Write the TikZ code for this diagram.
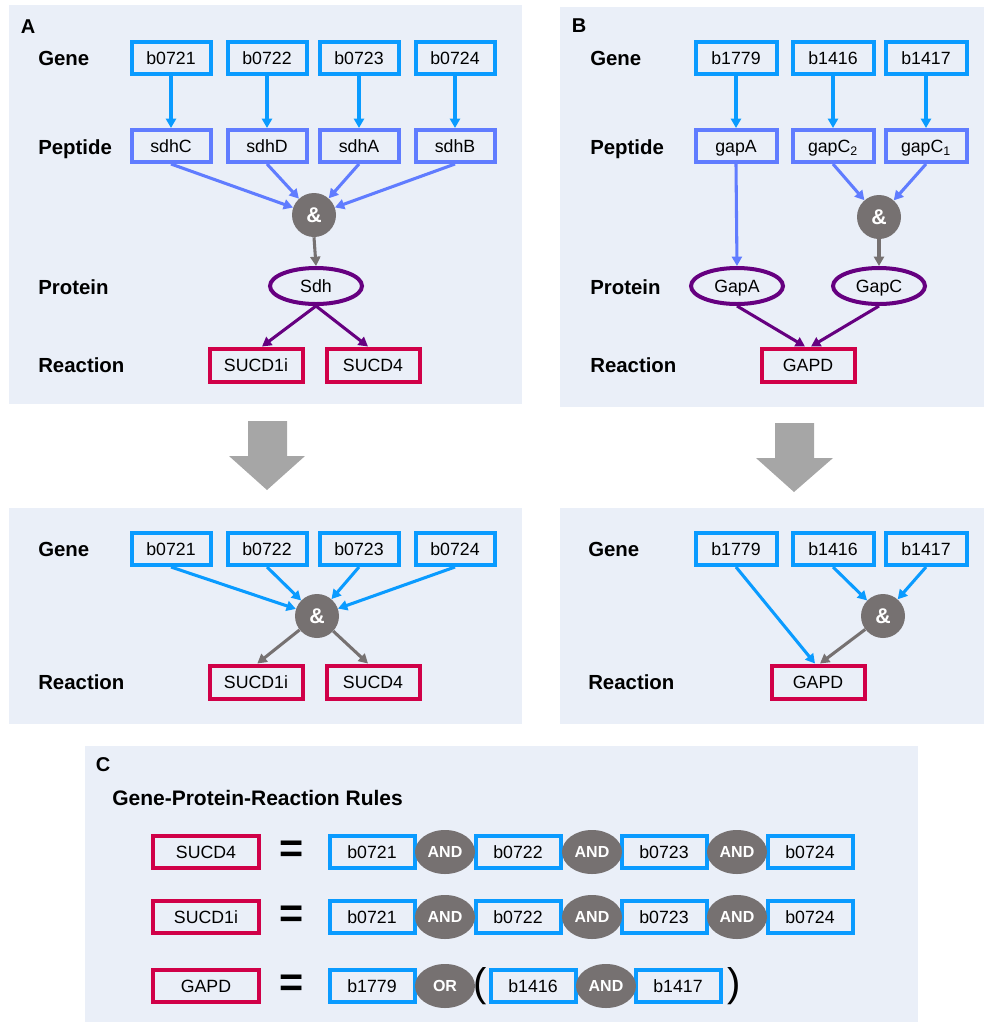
\documentclass[tikz,border=0pt]{standalone}
\usepackage{fontspec}
\setmainfont{Liberation Sans}
\usetikzlibrary{shapes.geometric,arrows.meta}
\definecolor{geneblue}{RGB}{10,155,255}
\definecolor{pepblue}{RGB}{96,124,255}
\definecolor{protpurple}{RGB}{102,0,128}
\definecolor{rxnred}{RGB}{208,0,72}
\definecolor{andgray}{RGB}{118,113,113}
\definecolor{panelbg}{RGB}{234,239,248}
\definecolor{bigarrow}{RGB}{166,166,166}
\tikzset{
  boxbase/.style={font=\fontsize{13.3pt}{16pt}\selectfont, inner sep=0pt, text height=9.5pt, text depth=0pt, line width=3pt, fill=panelbg},
  gA/.style={boxbase, draw=geneblue, minimum width=59.25pt, minimum height=24pt},
  pA/.style={boxbase, draw=pepblue, minimum width=59.25pt, minimum height=24pt},
  gB/.style={boxbase, draw=geneblue, minimum width=60.75pt, minimum height=24pt},
  pB/.style={boxbase, draw=pepblue, minimum width=60.75pt, minimum height=24pt},
  gC/.style={boxbase, draw=geneblue, minimum width=63.75pt, minimum height=24pt},
  rxn/.style={boxbase, draw=rxnred, minimum width=69.75pt, minimum height=24.75pt},
  rxnC/.style={boxbase, draw=rxnred, minimum width=79.5pt, minimum height=24pt},
  prot/.style={boxbase, ellipse, draw=protpurple, minimum width=69pt, minimum height=27pt},
  andnode/.style={circle, fill=andgray, minimum size=33pt, inner sep=0pt, text=white, font=\fontsize{16pt}{16pt}\selectfont\bfseries},
  opnode/.style={ellipse, fill=andgray, minimum width=45pt, minimum height=33pt, inner sep=0pt, text=white, font=\fontsize{12pt}{12pt}\selectfont\bfseries},
  rowlabel/.style={anchor=west, inner sep=0pt, font=\fontsize{15.3pt}{18pt}\selectfont\bfseries, text height=11pt, text depth=0pt},
  paneltag/.style={inner sep=0pt, font=\fontsize{15pt}{18pt}\selectfont\bfseries},
  titletext/.style={anchor=west, inner sep=0pt, font=\fontsize{15.75pt}{18pt}\selectfont\bfseries, text height=11.3pt, text depth=0pt},
  eqsign/.style={inner sep=0pt, font=\fontsize{31pt}{31pt}\selectfont\bfseries},
  paren/.style={inner sep=0pt, font=\fontsize{30pt}{30pt}\selectfont},
  link/.style={line width=2.3pt, -{Triangle[length=7pt,width=7.5pt]}}
}
\begin{document}
\begin{tikzpicture}[x=0.75pt,y=-0.75pt]
\useasboundingbox (0,0) rectangle (984,1022);
% ---------- panels ----------
\fill[panelbg] (9,5) rectangle (522,404);
\fill[panelbg] (560,7) rectangle (984,407);
\fill[panelbg] (9,508) rectangle (522,724);
\fill[panelbg] (560,508) rectangle (984,724);
\fill[panelbg] (85,746) rectangle (918,1022);
% ---------- block arrows ----------
\fill[bigarrow] (248,421) -- (287,421) -- (287,456) -- (305,456) -- (267,490) -- (229,456) -- (248,456) -- cycle;
\fill[bigarrow] (775,423) -- (814,423) -- (814,458) -- (833,458) -- (794,492) -- (756,458) -- (775,458) -- cycle;

% ================= Panel A =================
\node[paneltag] (tagA) at (28,27) {A};
\node[rowlabel] (laGene) at (38,58) {Gene};
\node[rowlabel] (laPep) at (38,147) {Peptide};
\node[rowlabel] (laProt) at (38,287) {Protein};
\node[rowlabel] (laRxn) at (38,365) {Reaction};
\node[gA] (a1) at (171,58) {b0721};
\node[gA] (a2) at (267,58) {b0722};
\node[gA] (a3) at (359,58) {b0723};
\node[gA] (a4) at (455,58) {b0724};
\node[pA] (ap1) at (171,146) {sdhC};
\node[pA] (ap2) at (267,146) {sdhD};
\node[pA] (ap3) at (359,146) {sdhA};
\node[pA] (ap4) at (455,146) {sdhB};
\node[andnode] (aand) at (314,215) {\&};
\node[prot] (sdh) at (316,286) {Sdh};
\node[rxn] (ar1) at (256,365) {SUCD1i};
\node[rxn] (ar2) at (373,365) {SUCD4};
\foreach \i in {1,2,3,4} \draw[link, geneblue] (a\i.south) -- (ap\i.north);
\foreach \i in {1,2,3,4} \draw[link, pepblue] (ap\i.south) -- (aand);
\draw[link, andgray] (aand.south) -- (sdh.north);
\draw[link, protpurple] (sdh.south) -- ([xshift=4.5pt]ar1.north);
\draw[link, protpurple] (sdh.south) -- ([xshift=-3.75pt]ar2.north);

% ================= Panel B =================
\node[paneltag] (tagB) at (579,26) {B};
\node[rowlabel] (lbGene) at (590,58) {Gene};
\node[rowlabel] (lbPep) at (590,147) {Peptide};
\node[rowlabel] (lbProt) at (590,287) {Protein};
\node[rowlabel] (lbRxn) at (590,365) {Reaction};
\node[gB] (b1) at (736,58) {b1779};
\node[gB] (b2) at (833,58) {b1416};
\node[gB] (b3) at (926,58) {b1417};
\node[pB] (bp1) at (736,146) {gapA};
\node[pB] (bp2) at (833,146) {gapC\textsubscript{2}};
\node[pB] (bp3) at (926,146) {gapC\textsubscript{1}};
\node[andnode] (band) at (879,217) {\&};
\node[prot] (gapa) at (737,286) {GapA};
\node[prot] (gapc) at (879,286) {GapC};
\node[rxn] (gapd) at (808,365) {GAPD};
\foreach \i in {1,2,3} \draw[link, geneblue] (b\i.south) -- (bp\i.north);
\draw[link, pepblue] (bp1.south) -- (gapa.north);
\draw[link, pepblue] (bp2.south) -- (band);
\draw[link, pepblue] (bp3.south) -- (band);
\draw[link, andgray] (band.south) -- (gapc.north);
\draw[link, protpurple] (gapa.south) -- ([xshift=-2.25pt]gapd.north);
\draw[link, protpurple] (gapc.south) -- ([xshift=2.25pt]gapd.north);

% ================= Bottom A =================
\node[rowlabel] (lcGene) at (38,549) {Gene};
\node[rowlabel] (lcRxn) at (38,682) {Reaction};
\node[gA] (c1) at (171,549) {b0721};
\node[gA] (c2) at (267,549) {b0722};
\node[gA] (c3) at (359,549) {b0723};
\node[gA] (c4) at (455,549) {b0724};
\node[andnode] (cand) at (317,616) {\&};
\node[rxn] (cr1) at (256,682) {SUCD1i};
\node[rxn] (cr2) at (373,682) {SUCD4};
\foreach \i in {1,2,3,4} \draw[link, geneblue] (c\i.south) -- (cand);
\draw[link, andgray] (cand) -- ([xshift=1pt]cr1.north);
\draw[link, andgray] (cand) -- ([xshift=-3.75pt]cr2.north);

% ================= Bottom B =================
\node[rowlabel] (ldGene) at (588,549) {Gene};
\node[rowlabel] (ldRxn) at (588,682) {Reaction};
\node[gB] (d1) at (736,549) {b1779};
\node[gB] (d2) at (833,549) {b1416};
\node[gB] (d3) at (926,549) {b1417};
\node[andnode] (dand) at (883,616) {\&};
\node[rxn] (dgapd) at (818,682) {GAPD};
\draw[link, geneblue] (d1.south) -- ([xshift=-2.25pt]dgapd.north);
\draw[link, geneblue] (d2.south) -- (dand);
\draw[link, geneblue] (d3.south) -- (dand);
\draw[link, andgray] (dand) -- ([xshift=1.5pt]dgapd.north);

% ================= Panel C =================
\node[paneltag] (tagC) at (103,765) {C};
\node[titletext] (title) at (112,798) {Gene-Protein-Reaction Rules};
% row 1
\node[rxnC] (r1) at (206,852) {SUCD4};
\node[eqsign] (e1) at (292,852) {=};
\node[gC] (r1g1) at (372,852) {b0721};
\node[gC] (r1g2) at (518,852) {b0722};
\node[gC] (r1g3) at (664,852) {b0723};
\node[gC] (r1g4) at (810,852) {b0724};
\node[opnode] (r1o1) at (445,852) {AND};
\node[opnode] (r1o2) at (592,852) {AND};
\node[opnode] (r1o3) at (737,852) {AND};
% row 2
\node[rxnC] (r2) at (206,917) {SUCD1i};
\node[eqsign] (e2) at (292,917) {=};
\node[gC] (r2g1) at (372,917) {b0721};
\node[gC] (r2g2) at (518,917) {b0722};
\node[gC] (r2g3) at (664,917) {b0723};
\node[gC] (r2g4) at (810,917) {b0724};
\node[opnode] (r2o1) at (445,917) {AND};
\node[opnode] (r2o2) at (592,917) {AND};
\node[opnode] (r2o3) at (737,917) {AND};
% row 3
\node[rxnC] (r3) at (206,986) {GAPD};
\node[eqsign] (e3) at (292,986) {=};
\node[gC] (r3g1) at (372,986) {b1779};
\node[gC] (r3g2) at (533,986) {b1416};
\node[gC] (r3g3) at (678,986) {b1417};
\node[opnode] (r3o1) at (445,986) {OR};
\node[opnode] (r3o2) at (606,986) {AND};
\node[paren] (pl) at (480,986) {(};
\node[paren] (pr) at (734,986) {)};
\end{tikzpicture}
\end{document}
